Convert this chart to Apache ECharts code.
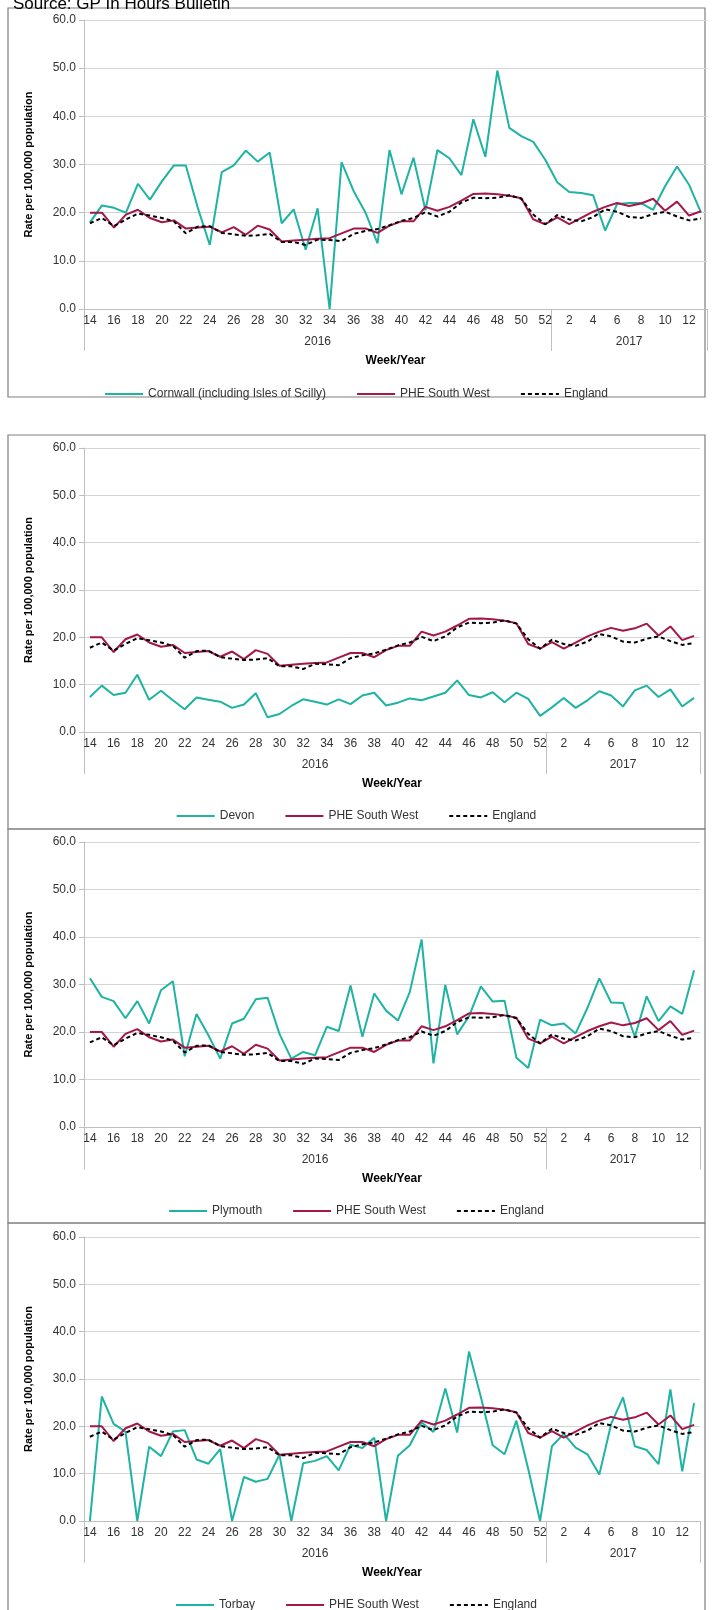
<!DOCTYPE html>
<html>
<head>
    <meta charset="utf-8">
    <title>GP In Hours - South West</title>
    <style>
        html, body { margin: 0; padding: 0; background: #fff; }
        #chart { width: 712px; height: 1610px; }
    </style>
    <script src="https://cdn.jsdelivr.net/npm/echarts@6/dist/echarts.min.js"></script>
</head>
<body>
    <div id="chart"></div>
    <script>
        // week labels: 14..52 of 2016, then 1..13 of 2017
        const weeks = ['14','15','16','17','18','19','20','21','22','23','24','25','26','27','28','29','30','31','32','33',
            '34','35','36','37','38','39','40','41','42','43','44','45','46','47','48','49','50','51','52',
            '1','2','3','4','5','6','7','8','9','10','11','12','13'];
        const yearLabels = ['2016', '2017'];

        const southWest = [20,20,16.9,19.6,20.6,18.9,18,18.4,16.7,16.9,17.1,15.9,17,15.4,17.3,16.5,14,14.2,14.4,14.6,
            14.7,15.7,16.7,16.7,15.8,17.3,18.2,18.2,21.2,20.4,21.2,22.5,23.9,24,23.8,23.5,23,18.6,17.6,
            19,17.6,18.9,20.2,21.2,22,21.4,21.9,22.9,20.4,22.3,19.4,20.3];
        const england = [17.8,18.9,17.2,18.6,19.8,19.4,18.9,18.2,15.7,17.1,17.2,15.8,15.5,15.2,15.3,15.6,13.9,13.9,13.3,14.4,
            14.3,14.1,15.6,16.2,16.6,17.4,18.3,18.9,20.1,19.2,20.2,22.1,23.1,23,23.1,23.6,22.9,19.6,17.6,
            19.5,18.6,18.2,19.1,20.7,20.2,19.1,18.9,19.7,20.2,19.2,18.4,18.8];

        const cornwall = [18,21.5,21,20,26,22.7,26.5,29.8,29.8,21,13.3,28.4,29.8,32.9,30.6,32.5,17.8,20.7,12.3,20.9,
            0,30.5,24.5,20,13.6,33,23.8,31.4,20.5,33,31.3,27.8,39.4,31.6,49.5,37.6,35.9,34.7,31,
            26.3,24.3,24.1,23.6,16.3,21.8,22,22,20.6,25.5,29.6,25.8,20];
        const devon = [7.4,9.8,7.8,8.3,12.1,6.8,8.7,6.7,4.8,7.3,6.8,6.4,5.1,5.8,8.2,3.1,3.8,5.5,6.9,6.4,
            5.8,6.9,5.9,7.7,8.3,5.6,6.2,7.1,6.7,7.5,8.3,10.9,7.8,7.3,8.4,6.3,8.3,7,3.4,
            5.2,7.2,5.1,6.7,8.6,7.7,5.4,8.8,9.8,7.4,9,5.4,7.2];
        const plymouth = [31.3,27.4,26.5,22.9,26.5,21.8,28.8,30.7,14.9,23.8,19.3,14.4,21.8,22.8,26.9,27.2,19.6,14.4,15.8,15.1,
            21.1,20.2,29.8,19,28.1,24.5,22.4,28.4,39.5,13.4,29.9,19.5,23.3,29.6,26.4,26.6,14.6,12.4,22.6,
            21.4,21.8,19.7,25.1,31.3,26.2,26.1,19,27.5,22.3,25.4,23.8,33];
        const torbay = [0,26.3,20.5,18.9,0,15.7,13.7,18.9,19.2,13,12.1,15.2,0,9.3,8.3,8.9,14,0,12.2,12.7,
            13.7,10.7,16.1,15.4,17.6,0,13.8,16,20.8,18.8,28,18.7,35.8,26.2,16,14.1,21.2,11,0,
            15.8,18.4,15.5,14.1,9.8,20.5,26.1,15.8,15,12,27.8,10.5,24.9];

        const areaNames = ['Cornwall (including Isles of Scilly)', 'Devon', 'Plymouth', 'Torbay'];
        const areaData = [cornwall, devon, plymouth, torbay];

        // panel layout: plot top, plot height, right margin, legend top, box top/bottom
        const panels = [
            { top: 20, height: 289, right: 5, legendTop: 383, box: [8, 397] },
            { top: 448, height: 284, right: 12, legendTop: 805, box: [435, 829] },
            { top: 842, height: 285, right: 12, legendTop: 1200, box: [829, 1223] },
            { top: 1237, height: 284, right: 12, legendTop: 1594, box: [1223, 1640] }
        ];

        const teal = '#1eb3a3';
        const maroon = '#a3174a';
        const font = 'Liberation Sans, Arial, sans-serif';
        const lastIdx2016 = weeks.indexOf('52') + 1;

        const grid = [], xAxis = [], yAxis = [], series = [], legend = [], graphic = [];

        panels.forEach(function (p, i) {
            graphic.push({
                type: 'rect',
                shape: { x: 8, y: p.box[0], width: 697, height: p.box[1] - p.box[0] },
                style: { fill: 'none', stroke: '#7f7f7f', lineWidth: 1.2 },
                silent: true
            });
            grid.push({ left: 84, right: p.right, top: p.top, height: p.height });
            xAxis.push({
                type: 'category',
                gridIndex: i,
                data: weeks,
                boundaryGap: true,
                name: 'Week/Year',
                nameLocation: 'middle',
                nameGap: 46,
                nameTextStyle: { fontFamily: font, fontSize: 12, fontWeight: 'bold', color: '#000' },
                axisLine: { lineStyle: { color: '#bfbfbf' } },
                axisTick: { interval: 0, length: 13, lineStyle: { color: '#bfbfbf' } },
                axisLabel: { interval: 1, fontFamily: font, fontSize: 12, color: '#333', margin: 6 }
            });
            xAxis.push({
                type: 'value',
                gridIndex: i,
                position: 'bottom',
                min: 0,
                max: weeks.length,
                axisLine: { show: false },
                splitLine: { show: false },
                axisTick: { customValues: [0, lastIdx2016, weeks.length], length: 42, lineStyle: { color: '#bfbfbf' } },
                axisLabel: {
                    customValues: [lastIdx2016 / 2, (lastIdx2016 + weeks.length) / 2],
                    formatter: function (v) { return v < lastIdx2016 ? yearLabels[0] : yearLabels[1]; },
                    fontFamily: font, fontSize: 12, color: '#333', margin: 27
                }
            });
            yAxis.push({
                type: 'value',
                gridIndex: i,
                min: 0,
                max: 60,
                interval: 10,
                name: 'Rate per 100,000 population',
                nameLocation: 'middle',
                nameGap: 50,
                nameTextStyle: { fontFamily: font, fontSize: 11, fontWeight: 'bold', color: '#000' },
                axisLine: { show: true, lineStyle: { color: '#bfbfbf' } },
                axisTick: { show: true, length: 5, lineStyle: { color: '#bfbfbf' } },
                splitLine: { lineStyle: { color: '#d4d4d4', width: 1.2 } },
                axisLabel: { formatter: function (v) { return v.toFixed(1); }, fontFamily: font, fontSize: 12, color: '#333' }
            });
            const lines = [
                { name: areaNames[i], data: areaData[i], color: teal, type: 'solid' },
                { name: 'PHE South West', data: southWest, color: maroon, type: 'solid' },
                { name: 'England', data: england, color: '#000', type: [4, 3] }
            ];
            lines.forEach(function (l) {
                series.push({
                    type: 'line',
                    name: l.name,
                    xAxisIndex: i * 2,
                    yAxisIndex: i,
                    data: l.data,
                    symbol: 'none',
                    itemStyle: { color: l.color },
                    lineStyle: { color: l.color, width: 2, type: l.type },
                    animation: false
                });
            });
            legend.push({
                top: p.legendTop,
                left: 'center',
                data: lines.map(function (l) { return l.name; }),
                itemWidth: 38,
                itemHeight: 10,
                itemGap: 30,
                itemStyle: { opacity: 0 },
                textStyle: { fontFamily: font, fontSize: 12, color: '#333' },
                selectedMode: false
            });
        });

        const myChart = echarts.init(document.getElementById('chart'), null, { renderer: 'canvas' });
        const option = {
            backgroundColor: '#fff',
            title: {
                text: 'Source: GP In Hours Bulletin',
                left: 8,
                top: -9,
                textStyle: { fontFamily: font, fontSize: 17, fontWeight: 'normal', color: '#000' }
            },
            graphic: graphic,
            grid: grid,
            xAxis: xAxis,
            yAxis: yAxis,
            legend: legend,
            series: series
        };
        myChart.setOption(option);
        window.addEventListener('resize', myChart.resize);
    </script>
</body>
</html>
